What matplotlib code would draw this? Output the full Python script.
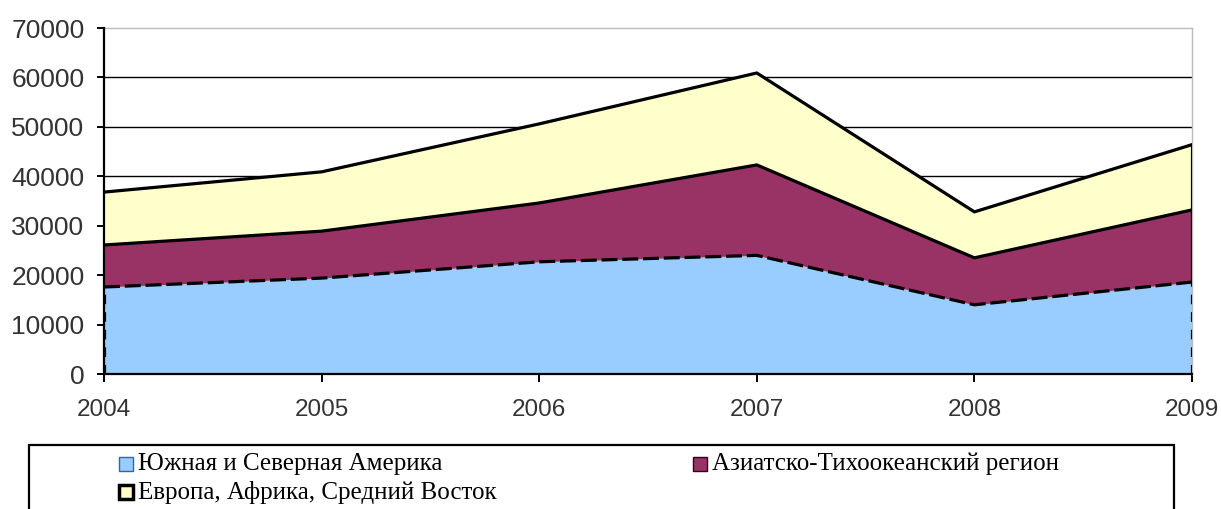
import matplotlib
matplotlib.use("Agg")
import matplotlib.pyplot as plt
from matplotlib.patches import Rectangle
import numpy as np

# production by region, stacked
years = [2004, 2005, 2006, 2007, 2008, 2009]
america = [17600, 19400, 22700, 24000, 14000, 18600]
asia_pacific = [8500, 9500, 11900, 18300, 9500, 14600]
europe_africa_me = [10700, 12000, 16000, 18600, 9300, 13200]

labels = ["Южная и Северная Америка",
          "Азиатско-Тихоокеанский регион",
          "Европа, Африка, Средний Восток"]
colors = ["#99CCFF", "#993366", "#FFFFCC"]

W, H = 1221, 509
fig = plt.figure(figsize=(W / 100, H / 100), dpi=100)
fig.patch.set_facecolor("white")

ax = fig.add_axes([104 / W, 1 - 374 / H, (1192 - 104) / W, (374 - 28) / H])

x = np.array(years)
b1 = np.array(america)
b2 = b1 + np.array(asia_pacific)
b3 = b2 + np.array(europe_africa_me)

ax.set_xlim(years[0], years[-1])
ax.set_ylim(0, 70000)

# gridlines
for v in range(10000, 70000, 10000):
    ax.axhline(v, color="black", lw=1.0, zorder=1)

ax.fill_between(x, 0, b1, color=colors[0], lw=0, zorder=2)
ax.fill_between(x, b1, b2, color=colors[1], lw=0, zorder=2)
ax.fill_between(x, b2, b3, color=colors[2], lw=0, zorder=2)

ax.plot(x, b1, color="black", lw=2.3, ls=(0, (5, 1.5)), zorder=4)
ax.plot(x, b2, color="black", lw=2.3, zorder=4)
ax.plot(x, b3, color="black", lw=2.3, zorder=4)

# side edges of the stack
ax.vlines([x[0], x[-1]], 0, [b1[0], b1[-1]], color="black", lw=2.3,
          linestyles=(0, (3, 2.5)), zorder=4)
ax.vlines([x[-1]], b1[-1], b3[-1], color="black", lw=2.3, zorder=4)

for s in ["top", "right"]:
    ax.spines[s].set_color("#BBBBBB")
    ax.spines[s].set_linewidth(1.0)
ax.spines["left"].set_linewidth(1.6)
ax.spines["bottom"].set_linewidth(1.6)
ax.spines["left"].set_zorder(5)
ax.spines["bottom"].set_zorder(5)

ax.set_yticks(range(0, 70001, 10000))
ax.set_yticklabels([str(v) for v in range(0, 70001, 10000)],
                   fontsize=19, family="Liberation Sans", color="#333333")
ax.set_xticks(years)
ax.set_xticklabels([str(y) for y in years], fontsize=17.5,
                   family="Liberation Sans", color="#333333")
ax.tick_params(axis="y", length=5, width=1.4, pad=9, direction="out")
ax.tick_params(axis="x", length=6, width=1.4, pad=12, direction="out")
ax.set_facecolor("white")

# legend box
px = lambda v: v / W
py = lambda v: 1 - v / H
fig.add_artist(Rectangle((px(29), py(520)), px(1174) - px(29), py(445) - py(520),
                         transform=fig.transFigure, fill=False,
                         edgecolor="black", lw=1.6))

entries = [(118, 464), (692, 464), (118, 492)]
edge_styles = [("#336699", 1.0), ("#330011", 1.0), ("black", 2.5)]
for (ex, ey), lab, col, (ec, elw) in zip(entries, labels, colors, edge_styles):
    fig.add_artist(Rectangle((px(ex + 1), py(ey + 7)), px(14), 14 / H,
                             transform=fig.transFigure, facecolor=col,
                             edgecolor=ec, lw=elw))
    fig.text(px(ex + 20), py(ey), lab, fontsize=18, family="Liberation Serif",
             va="center", ha="left", color="black")

fig.savefig("out.png", dpi=100)
